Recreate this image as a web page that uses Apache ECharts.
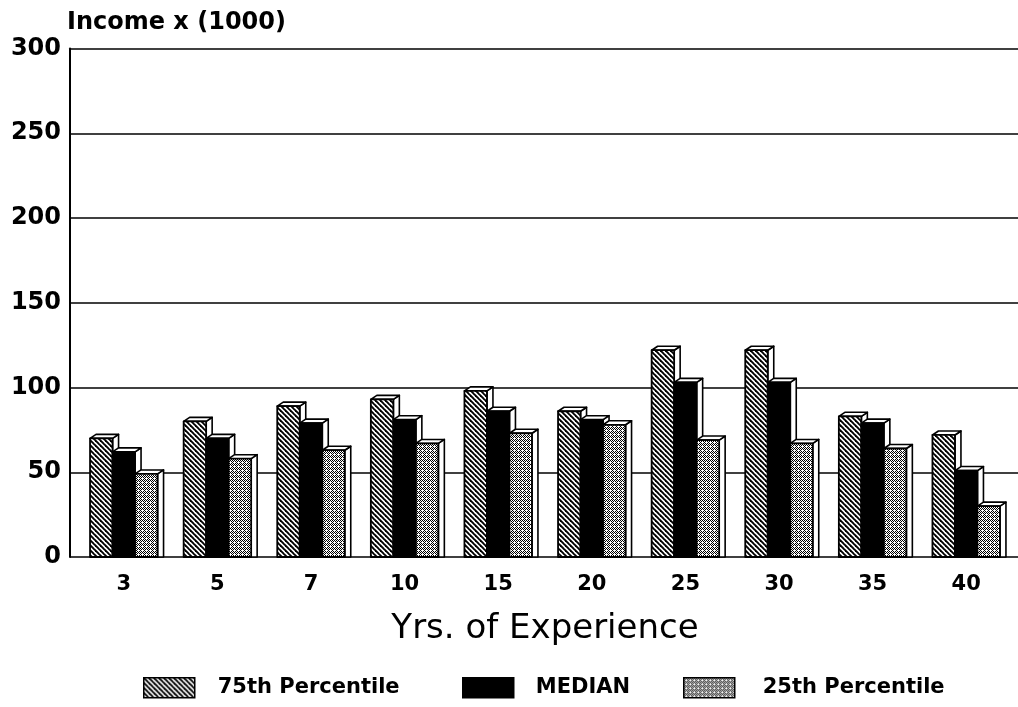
<!DOCTYPE html>
<html>
<head>
<meta charset="utf-8">
<script src="https://cdn.jsdelivr.net/npm/echarts@6/dist/echarts.min.js"></script>
<style>
html,body{margin:0;padding:0;background:#fff;}
#chart{width:1018px;height:707px;}
</style>
</head>
<body>
<div id="chart"></div>
<script>
// ---- data ----
const categories = ['3', '5', '7', '10', '15', '20', '25', '30', '35', '40'];
const p75 = [70, 80, 89, 93, 98, 86, 122, 122, 83, 72];
const median = [62, 70, 79, 81, 86, 81, 103, 103, 79, 51];
const p25 = [49, 58, 63, 67, 73, 78, 69, 67, 64, 30];
const seriesNames = ['75th Percentile', 'MEDIAN', '25th Percentile'];
const yMin = 0, yMax = 300, yStep = 50;
const yTitle = 'Income x (1000)';
const xTitle = 'Yrs. of Experience';

// ---- patterns ----
function hatchPattern() {
  const s = 5;
  const c = document.createElement('canvas');
  c.width = s; c.height = s;
  const g = c.getContext('2d');
  g.fillStyle = '#fff'; g.fillRect(0, 0, s, s);
  g.strokeStyle = '#000'; g.lineWidth = 1.9;
  for (const k of [-1, 0, 1]) {
    g.beginPath(); g.moveTo(k * s - 1, -1); g.lineTo(k * s + s + 1, s + 1); g.stroke();
  }
  return c;
}
function dotPattern() {
  const s = 4;
  const c = document.createElement('canvas');
  c.width = s; c.height = s;
  const g = c.getContext('2d');
  g.fillStyle = '#fff'; g.fillRect(0, 0, s, s);
  g.fillStyle = '#000';
  for (let y = 0; y < s; y++) for (let x = 0; x < s; x++) {
    if ((x + y) % 2 === 0 && !(x === 2 && y === 2)) g.fillRect(x, y, 1, 1);
  }
  return c;
}
const fills = [
  { image: hatchPattern(), repeat: 'repeat' },
  '#000',
  { image: dotPattern(), repeat: 'repeat' }
];

const BAR_W = 22.5, DEPTH_X = 6, DEPTH_Y = 4;
function makeRender(k) {
  return function (params, api) {
    const top = api.coord([api.value(0), api.value(1)]);
    const base = api.coord([api.value(0), 0]);
    const x0 = top[0] - 1.5 * BAR_W + k * BAR_W;
    const x1 = x0 + BAR_W;
    const y = top[1], y0 = base[1];
    const ls = { stroke: '#000', lineWidth: 1.6, lineJoin: 'round' };
    return {
      type: 'group',
      children: [
        { type: 'polygon', shape: { points: [[x1, y], [x1 + DEPTH_X, y - DEPTH_Y], [x1 + DEPTH_X, y0], [x1, y0]] },
          style: Object.assign({ fill: '#fff' }, ls) },
        { type: 'polygon', shape: { points: [[x0, y], [x0 + DEPTH_X, y - DEPTH_Y], [x1 + DEPTH_X, y - DEPTH_Y], [x1, y]] },
          style: Object.assign({ fill: '#fff' }, ls) },
        { type: 'rect', shape: { x: x0, y: y, width: BAR_W, height: y0 - y },
          style: Object.assign({ fill: fills[k] }, ls, { lineWidth: 1.8 }) }
      ]
    };
  };
}

const valueSets = [p75, median, p25];
const series = valueSets.map((vals, k) => ({
  name: seriesNames[k],
  type: 'custom',
  xAxisIndex: 1,
  yAxisIndex: 1,
  renderItem: makeRender(k),
  itemStyle: { color: fills[k], borderColor: '#000', borderWidth: 1.5 },
  encode: { x: 0, y: 1 },
  data: vals.map((v, i) => [i, v]),
  z: 3 + k
}));

const legendBase = {
  orient: 'horizontal',
  top: 677,
  padding: 0,
  itemWidth: 51,
  itemHeight: 20,
  icon: 'rect',
  selectedMode: false,
  itemStyle: { borderColor: '#000', borderWidth: 1.5 },
  textStyle: { fontFamily: 'DejaVu Sans', fontWeight: 'bold', fontSize: 21, color: '#000' }
};
function mkLegend(name, left, gap) {
  return Object.assign({}, legendBase, {
    data: [name], left: left,
    textStyle: Object.assign({}, legendBase.textStyle, { padding: [0, 0, 0, gap] })
  });
}

const option = {
  backgroundColor: '#fff',
  animation: false,
  title: {
    text: yTitle, left: 67, top: 11, padding: 0,
    textStyle: { fontFamily: 'DejaVu Sans', fontWeight: 'bold', fontSize: 24, color: '#000' }
  },
  legend: [
    mkLegend(seriesNames[0], 143, 18),
    mkLegend(seriesNames[1], 462, 17),
    mkLegend(seriesNames[2], 683, 23)
  ],
  grid: [
    { left: 70, right: 0, top: 48.5, bottom: 150 },
    { left: 77, right: 5, top: 48.5, bottom: 150 }
  ],
  xAxis: [
    { gridIndex: 0, type: 'value', show: false, min: 0, max: 1 },
    {
      gridIndex: 1, type: 'category', data: categories,
      axisLine: { show: false }, axisTick: { show: false },
      axisLabel: { margin: 17, fontFamily: 'DejaVu Sans', fontWeight: 'bold', fontSize: 21, color: '#000' },
      name: xTitle, nameLocation: 'middle', nameGap: 55,
      nameTextStyle: { fontFamily: 'DejaVu Sans', fontSize: 34, color: '#000' }
    }
  ],
  yAxis: [
    {
      gridIndex: 0, type: 'value', min: yMin, max: yMax, interval: yStep,
      axisLine: { show: true, lineStyle: { color: '#000', width: 2 } },
      axisTick: { show: false },
      axisLabel: { margin: 9, fontFamily: 'DejaVu Sans', fontWeight: 'bold', fontSize: 24, color: '#000' },
      splitLine: { show: true, lineStyle: { color: '#000', width: 1.6 } }
    },
    { gridIndex: 1, type: 'value', min: yMin, max: yMax, interval: yStep, show: false, splitLine: { show: false } }
  ],
  series: series
};

const chart = echarts.init(document.getElementById('chart'), null, { renderer: 'canvas' });
chart.setOption(option);
</script>
</body>
</html>
